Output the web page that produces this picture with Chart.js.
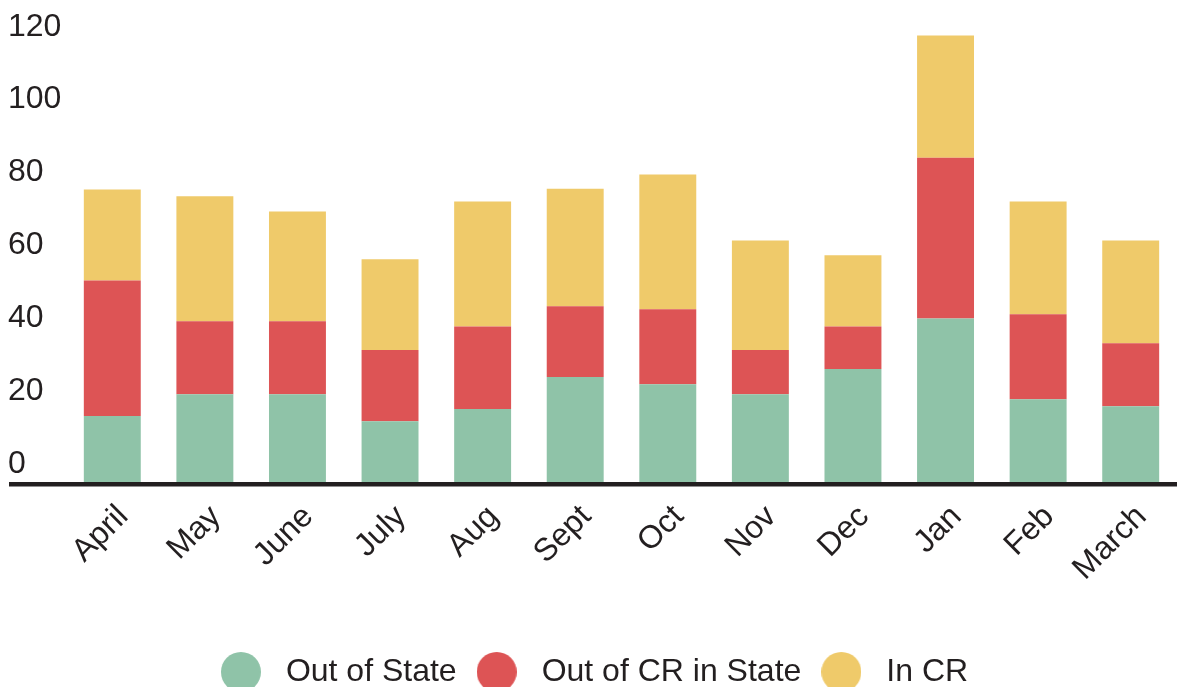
<!DOCTYPE html>
<html>
<head>
<meta charset="utf-8">
<script src="https://cdn.jsdelivr.net/npm/chart.js@4.4.1/dist/chart.umd.min.js"></script>
<style>
  html, body { margin: 0; padding: 0; background: #fff; }
  #wrap { width: 1177px; height: 687px; }
</style>
</head>
<body>
<div id="wrap"><canvas id="myChartBar" width="1177" height="687"></canvas></div>
<script>
const months = ['April', 'May', 'June', 'July', 'Aug', 'Sept', 'Oct', 'Nov', 'Dec', 'Jan', 'Feb', 'March'];
const outOfState = [18.1, 24.1, 24.1, 16.7, 20.0, 28.8, 26.8, 24.1, 31.0, 44.9, 22.7, 20.8];
const outOfCRInState = [37.2, 20.0, 20.0, 19.5, 22.7, 19.4, 20.6, 12.1, 11.7, 44.1, 23.3, 17.3];
const inCR = [25.0, 34.3, 30.1, 24.9, 34.3, 32.3, 37.0, 30.1, 19.5, 33.5, 31.0, 28.2];
const yTicks = [0, 20, 40, 60, 80, 100, 120];

const TEXT = '#231f20';
Chart.defaults.font.family = "'Liberation Sans', Arial, sans-serif";
Chart.defaults.color = TEXT;

// round legend dots, drawn as small canvases so the gap to the text can be set
function makeDot(color) {
    const c = document.createElement('canvas');
    c.width = 40; c.height = 40;
    const g = c.getContext('2d');
    g.fillStyle = color;
    g.beginPath();
    g.arc(20, 20, 20, 0, Math.PI * 2);
    g.fill();
    return c;
}

// thick dark base line under the bars, running out under the y labels
const baseLine = {
    id: 'baseLine',
    afterDatasetsDraw(chart) {
        const ctx = chart.ctx;
        const y = chart.scales.y.getPixelForValue(0);
        ctx.save();
        ctx.fillStyle = TEXT;
        ctx.fillRect(9, y, chart.width - 9, 4.5);
        ctx.restore();
    }
};

// nudge the legend a little left so it sits like the original
const legendNudge = {
    id: 'legendNudge',
    beforeDraw(chart) {
        if (chart.legend && !chart.legend._nudged) {
            chart.legend.left -= 4.5;
            chart.legend.right -= 4.5;
            chart.legend._nudged = true;
        }
    }
};

const data1 = {
    labels: months,
    datasets: [
        { label: 'Out of State', data: outOfState, backgroundColor: '#8fc3a8' },
        { label: 'Out of CR in State', data: outOfCRInState, backgroundColor: '#dd5455' },
        { label: 'In CR', data: inCR, backgroundColor: '#efca6a' }
    ]
};

const config1 = {
    type: 'bar',
    data: data1,
    options: {
        responsive: false,
        animation: false,
        categoryPercentage: 1,
        barPercentage: 0.615,
        layout: { padding: { left: 8, right: -4, top: 0, bottom: -11 } },
        scales: {
            x: {
                stacked: true,
                grid: { display: false, drawTicks: false },
                border: { display: false },
                ticks: {
                    autoSkip: false,
                    minRotation: 45,
                    maxRotation: 45,
                    padding: 16,
                    labelOffset: 11,
                    font: { size: 32 }
                },
                afterFit(scale) { scale.height = 163; }
            },
            y: {
                stacked: true,
                min: 0,
                max: 127,
                grid: { display: false, drawTicks: false },
                border: { display: false },
                afterBuildTicks(scale) {
                    scale.ticks = yTicks.map(v => ({ value: v }));
                },
                ticks: {
                    crossAlign: 'far',
                    padding: 0,
                    labelOffset: -18,
                    font: { size: 32 }
                },
                afterFit(scale) { scale.width = 58; }
            }
        },
        plugins: {
            tooltip: { enabled: false },
            legend: {
                position: 'bottom',
                labels: {
                    usePointStyle: true,
                    pointStyleWidth: 58,
                    boxHeight: 32,
                    padding: 11,
                    font: { size: 32 },
                    generateLabels(chart) {
                        const items = Chart.defaults.plugins.legend.labels.generateLabels(chart);
                        items.forEach(it => { it.pointStyle = makeDot(it.fillStyle); });
                        return items;
                    }
                }
            }
        }
    },
    plugins: [baseLine, legendNudge]
};

const ctx1 = document.getElementById('myChartBar').getContext('2d');
const myChart1 = new Chart(ctx1, config1);
</script>
</body>
</html>
